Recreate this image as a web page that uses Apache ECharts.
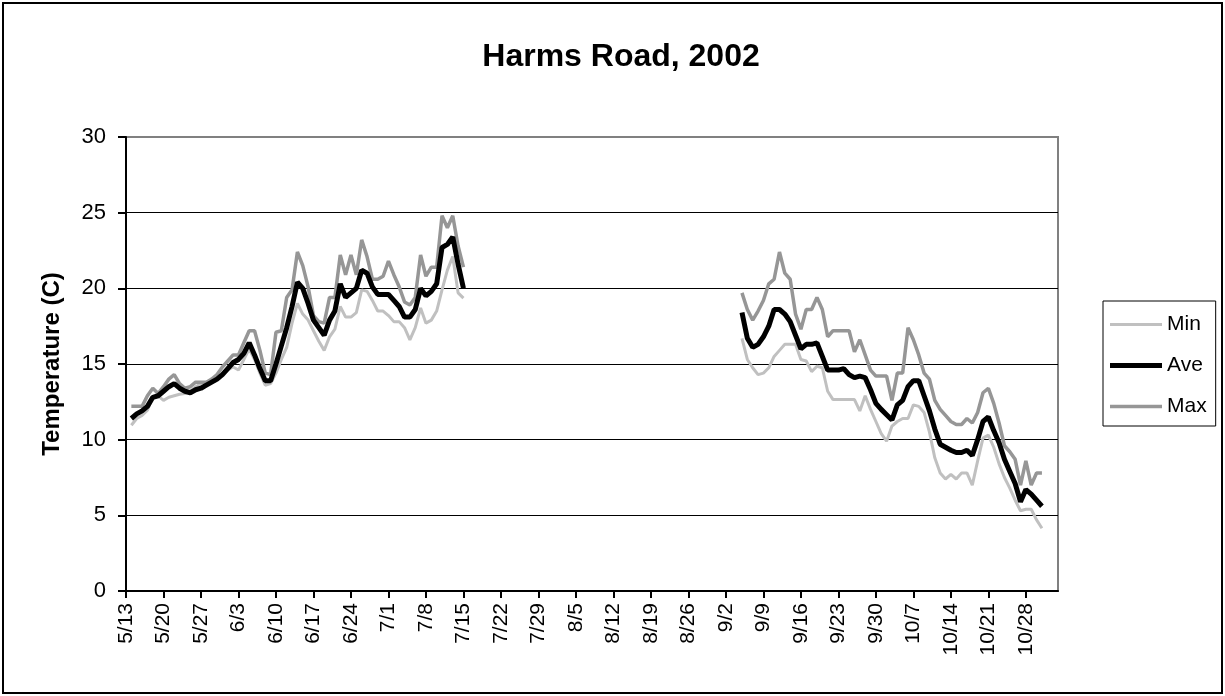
<!DOCTYPE html>
<html><head><meta charset="utf-8">
<script src="https://cdn.jsdelivr.net/npm/echarts@6/dist/echarts.min.js"></script>
<style>html,body{margin:0;padding:0;background:#fff}#c{width:1225px;height:696px}</style>
</head><body><div id="c"></div>
<script>
// Axis: one category per day, 5/13/2002 .. 11/3/2002
const FIRST_DAY = [2002, 4, 13];
const DAY_COUNT = 175;
const TICK_EVERY = 7;
const Y_TICKS = [0, 5, 10, 15, 20, 25, 30];
const TITLE = 'Harms Road, 2002';

// Segment 1 starts 5/14 (day 1), segment 2 starts 9/5 (day 115)
const SEG1_START = 1;
const SEG2_START = 115;

const minSeg1 = [10.95,11.4,11.6,11.95,12.8,12.9,12.6,12.8,12.9,13.0,13.05,13.2,13.5,13.7,13.8,13.9,14.0,14.3,14.6,14.8,14.6,15.3,16.0,15.3,14.4,13.6,13.7,14.4,15.3,16.1,17.7,19.0,18.3,17.9,17.2,16.5,15.9,16.8,17.3,18.8,18.1,18.1,18.4,19.9,19.8,19.2,18.5,18.5,18.2,17.8,17.8,17.4,16.6,17.4,18.7,17.7,17.9,18.5,19.9,21.2,22.1,19.7,19.35];
const aveSeg1 = [11.4,11.7,11.9,12.2,12.8,12.9,13.2,13.5,13.7,13.4,13.2,13.1,13.3,13.4,13.6,13.8,14.0,14.3,14.7,15.1,15.3,15.7,16.4,15.6,14.7,13.9,13.9,15.0,16.2,17.4,18.8,20.4,20.0,19.0,17.9,17.4,16.9,17.9,18.5,20.3,19.4,19.7,20.0,21.2,21.0,20.1,19.6,19.6,19.6,19.2,18.8,18.1,18.1,18.6,20.0,19.5,19.8,20.3,22.7,22.9,23.4,21.6,20.0];
const maxSeg1 = [12.2,12.2,12.2,12.9,13.4,13.05,13.5,14.0,14.3,13.7,13.4,13.5,13.8,13.8,13.8,14.0,14.3,14.8,15.2,15.6,15.6,16.4,17.2,17.2,15.9,14.4,14.3,17.1,17.2,19.4,19.9,22.4,21.5,20.1,18.2,17.8,17.7,19.4,19.4,22.2,20.9,22.2,20.9,23.2,22.1,20.6,20.6,20.8,21.8,20.9,20.1,19.1,18.9,19.4,22.2,20.8,21.4,21.4,24.8,24.0,24.8,22.8,21.4];

const minSeg2 = [16.7,15.3,14.75,14.3,14.4,14.75,15.5,15.9,16.3,16.3,16.3,15.3,15.2,14.5,14.85,14.75,13.2,12.65,12.65,12.65,12.65,12.65,11.9,12.9,12.0,11.2,10.4,9.9,10.9,11.2,11.4,11.4,12.3,12.2,11.8,10.5,8.8,7.8,7.4,7.7,7.4,7.8,7.8,7.0,8.6,10.1,10.3,9.5,8.4,7.5,6.8,6.0,5.3,5.4,5.4,4.7,4.15];
const aveSeg2 = [18.4,16.7,16.1,16.3,16.8,17.5,18.6,18.6,18.3,17.8,16.9,16.0,16.3,16.3,16.4,15.5,14.6,14.6,14.6,14.7,14.3,14.1,14.2,14.1,13.3,12.4,12.0,11.65,11.3,12.3,12.6,13.5,13.9,13.9,12.9,11.9,10.7,9.7,9.5,9.3,9.15,9.15,9.3,8.95,10.0,11.2,11.5,10.6,9.8,8.7,7.9,7.1,5.9,6.7,6.4,6.0,5.6];
const maxSeg2 = [19.7,18.6,17.9,18.5,19.2,20.3,20.6,22.4,21.0,20.6,18.3,17.3,18.6,18.6,19.4,18.6,16.8,17.2,17.2,17.2,17.2,15.8,16.6,15.6,14.6,14.2,14.2,14.2,12.6,14.4,14.4,17.4,16.6,15.6,14.4,14.0,12.6,12.0,11.6,11.2,11.0,11.0,11.4,11.1,11.8,13.1,13.4,12.4,11.1,9.6,9.2,8.7,7.0,8.6,7.0,7.8,7.8];

const FONT = '"Liberation Sans", Arial, sans-serif';

const days = [];
for (let i = 0; i < DAY_COUNT; i++) {
  const d = new Date(FIRST_DAY[0], FIRST_DAY[1], FIRST_DAY[2] + i);
  days.push((d.getMonth() + 1) + '/' + d.getDate());
}
function fullSeries(seg1, seg2) {
  const arr = new Array(DAY_COUNT).fill(null);
  seg1.forEach((v, i) => { arr[SEG1_START + i] = v; });
  seg2.forEach((v, i) => { arr[SEG2_START + i] = v; });
  return arr;
}
function barIcon(h) { return 'path://M0,0L52,0L52,' + h + 'L0,' + h + 'Z'; }

const chart = echarts.init(document.getElementById('c'), null, {renderer: 'canvas'});
chart.setOption({
  animation: false,
  backgroundColor: '#fff',
  textStyle: {fontFamily: FONT, color: '#000'},
  grid: {left: 126, right: 167, top: 137, bottom: 105, show: true, borderColor: '#808080', borderWidth: 2},
  legend: {
    data: [
      {name: 'Min', icon: barIcon(3)},
      {name: 'Ave', icon: barIcon(5)},
      {name: 'Max', icon: barIcon(3.5)}
    ],
    orient: 'vertical', left: 1103, top: 301,
    padding: [13, 9, 9, 7], itemWidth: 52, itemHeight: 22, itemGap: 20,
    borderColor: '#000', borderWidth: 1,
    textStyle: {fontFamily: FONT, fontSize: 21, color: '#000'}
  },
  xAxis: {
    type: 'category', data: days, boundaryGap: false,
    axisLine: {lineStyle: {color: '#000', width: 2}},
    axisTick: {show: true, interval: TICK_EVERY - 1, length: 7, lineStyle: {color: '#000', width: 2}},
    axisLabel: {interval: TICK_EVERY - 1, rotate: 90, fontSize: 21, color: '#000', margin: 12, fontFamily: FONT},
    splitLine: {show: false}
  },
  yAxis: {
    type: 'value', min: Y_TICKS[0], max: Y_TICKS[Y_TICKS.length - 1], interval: Y_TICKS[1] - Y_TICKS[0],
    name: 'Temperature (C)', nameLocation: 'middle', nameGap: 62,
    nameTextStyle: {fontFamily: FONT, fontSize: 24, fontWeight: 'bold', color: '#000'},
    axisLine: {show: true, lineStyle: {color: '#000', width: 2}},
    axisTick: {show: true, length: 8, lineStyle: {color: '#000', width: 2}},
    axisLabel: {fontSize: 22, color: '#000', margin: 20, fontFamily: FONT},
    splitLine: {show: true, lineStyle: {color: ['#000', '#000', '#000', '#000', '#000', '#000', '#808080'], width: 1.2}}
  },
  series: [
    {name: 'Min', type: 'line', data: fullSeries(minSeg1, minSeg2), symbol: 'none', connectNulls: false,
     lineStyle: {color: '#c0c0c0', width: 3}, itemStyle: {color: '#c0c0c0'}, z: 2},
    {name: 'Max', type: 'line', data: fullSeries(maxSeg1, maxSeg2), symbol: 'none', connectNulls: false,
     lineStyle: {color: '#969696', width: 3.5}, itemStyle: {color: '#969696'}, z: 3},
    {name: 'Ave', type: 'line', data: fullSeries(aveSeg1, aveSeg2), symbol: 'none', connectNulls: false,
     lineStyle: {color: '#000', width: 5}, itemStyle: {color: '#000'}, z: 4}
  ],
  graphic: [
    {
      type: 'rect', silent: true, z: -1,
      shape: {x: 3, y: 3, width: 1219, height: 690},
      style: {fill: 'none', stroke: '#000', lineWidth: 2}
    },
    {
      type: 'text', silent: true, x: 621, y: 57,
      style: {text: TITLE, fill: '#000', font: 'bold 32px ' + FONT, textAlign: 'center', textVerticalAlign: 'middle'}
    }
  ]
});
</script></body></html>
